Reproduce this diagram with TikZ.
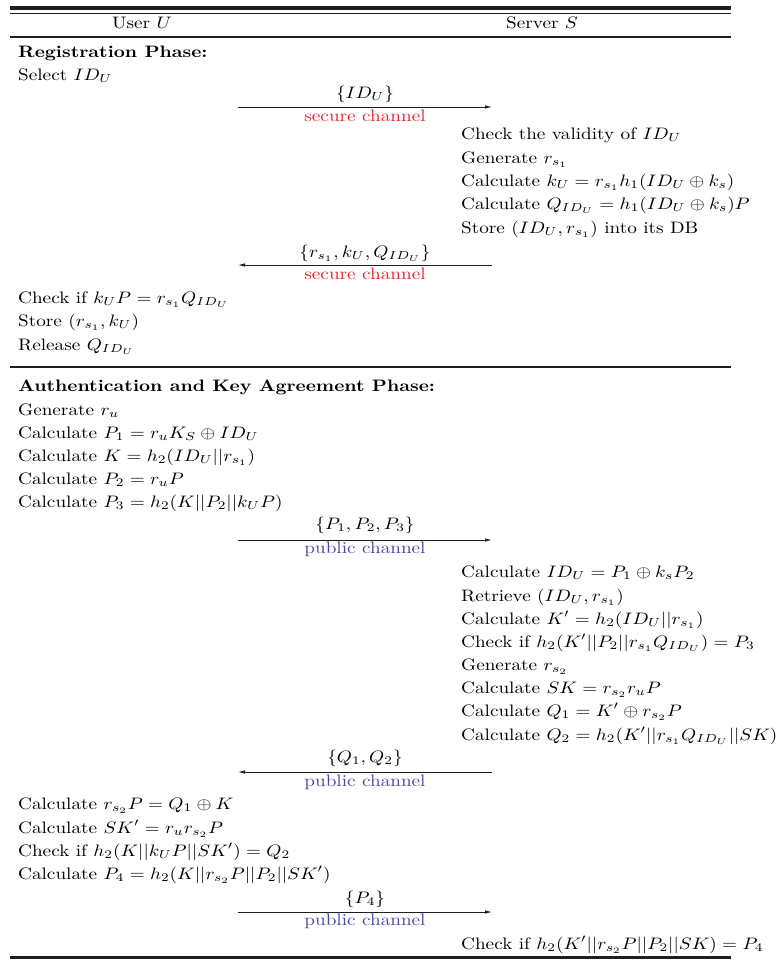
\documentclass[tikz,border=0pt]{standalone}
\usetikzlibrary{arrows.meta}
\definecolor{secred}{RGB}{232,38,44}
\definecolor{pubblue}{RGB}{72,72,168}
\definecolor{rulegray}{RGB}{30,30,30}
\newcommand\sx[1]{\scalebox{1.92}[1.66]{#1}}
\begin{document}
\begin{tikzpicture}[x=1pt,y=-1pt,
  txt/.style={anchor=base west, inner sep=0pt, font=\fontsize{10}{12}\selectfont},
  ctr/.style={anchor=base, inner sep=0pt, font=\fontsize{10}{12}\selectfont},
  sec/.style={ctr, text=secred},
  pub/.style={ctr, text=pubblue},
  msg/.style={-{Latex[length=7pt,width=3.5pt]}, line width=0.8pt, draw=rulegray},
  hrule/.style={draw=rulegray, line width=#1},
]
\useasboundingbox (0,0) rectangle (783,962);
% rules
\draw[hrule=4pt] (10,8) -- (731,8);
\draw[hrule=1pt] (10,13.5) -- (731,13.5);
\draw[hrule=2.5pt] (10,37) -- (731,37);
\draw[hrule=2pt] (10,367) -- (731,367);
\draw[hrule=3pt] (10,957) -- (731,957);
% header
\node[ctr] (hu) at (142,28) {\sx{User $U$}};
\node[ctr] (hs) at (542,28) {\sx{Server $S$}};
% registration
\node[txt] (reg) at (18,57) {\sx{\textbf{Registration Phase:}}};
\node[txt] (u1) at (18,80) {\sx{Select $ID_U$}};
\coordinate (a1s) at (238,107); \coordinate (a1e) at (492,107);
\node[ctr] (m1) at (365,98) {\sx{$\{ID_U\}$}};
\draw[msg] (a1s) -- (a1e);
\node[sec] (c1) at (365,121) {\sx{secure channel}};
\node[txt] (s1) at (461,139) {\sx{Check the validity of $ID_U$}};
\node[txt] (s2) at (461,163) {\sx{Generate $r_{s_1}$}};
\node[txt] (s3) at (461,186) {\sx{Calculate $k_U = r_{s_1} h_1(ID_U \oplus k_s)$}};
\node[txt] (s4) at (461,209) {\sx{Calculate $Q_{ID_U} = h_1(ID_U \oplus k_s)P$}};
\node[txt] (s5) at (461,233) {\sx{Store $(ID_U, r_{s_1})$ into its DB}};
\coordinate (a2s) at (492,265); \coordinate (a2e) at (238,265);
\node[ctr] (m2) at (365,257) {\sx{$\{r_{s_1}, k_U, Q_{ID_U}\}$}};
\draw[msg] (a2s) -- (a2e);
\node[sec] (c2) at (365,279) {\sx{secure channel}};
\node[txt] (u2) at (18,303) {\sx{Check if $k_U P = r_{s_1} Q_{ID_U}$}};
\node[txt] (u3) at (18,326) {\sx{Store $(r_{s_1}, k_U)$}};
\node[txt] (u4) at (18,350) {\sx{Release $Q_{ID_U}$}};
% authentication
\node[txt] (auth) at (18,391) {\sx{\textbf{Authentication and Key Agreement Phase:}}};
\node[txt] (u5) at (18,415) {\sx{Generate $r_u$}};
\node[txt] (u6) at (18,438) {\sx{Calculate $P_1 = r_u K_S \oplus ID_U$}};
\node[txt] (u7) at (18,461) {\sx{Calculate $K = h_2(ID_U || r_{s_1})$}};
\node[txt] (u8) at (18,484) {\sx{Calculate $P_2 = r_u P$}};
\node[txt] (u9) at (18,507) {\sx{Calculate $P_3 = h_2(K || P_2 || k_U P)$}};
\coordinate (a3s) at (238,540); \coordinate (a3e) at (492,540);
\node[ctr] (m3) at (365,529) {\sx{$\{P_1, P_2, P_3\}$}};
\draw[msg] (a3s) -- (a3e);
\node[pub] (c3) at (365,553) {\sx{public channel}};
\node[txt] (s6) at (461,577) {\sx{Calculate $ID_U = P_1 \oplus k_s P_2$}};
\node[txt] (s7) at (461,601) {\sx{Retrieve $(ID_U, r_{s_1})$}};
\node[txt] (s8) at (461,624) {\sx{Calculate $K' = h_2(ID_U || r_{s_1})$}};
\node[txt] (s9) at (461,647) {\sx{Check if $h_2(K' || P_2 || r_{s_1} Q_{ID_U}) = P_3$}};
\node[txt] (s10) at (461,670) {\sx{Generate $r_{s_2}$}};
\node[txt] (s11) at (461,693) {\sx{Calculate $SK = r_{s_2} r_u P$}};
\node[txt] (s12) at (461,716) {\sx{Calculate $Q_1 = K' \oplus r_{s_2} P$}};
\node[txt] (s13) at (461,740) {\sx{Calculate $Q_2 = h_2(K' || r_{s_1} Q_{ID_U} || SK)$}};
\coordinate (a4s) at (492,772); \coordinate (a4e) at (238,772);
\node[ctr] (m4) at (365,762) {\sx{$\{Q_1, Q_2\}$}};
\draw[msg] (a4s) -- (a4e);
\node[pub] (c4) at (365,786) {\sx{public channel}};
\node[txt] (u10) at (18,809) {\sx{Calculate $r_{s_2} P = Q_1 \oplus K$}};
\node[txt] (u11) at (18,833) {\sx{Calculate $SK' = r_u r_{s_2} P$}};
\node[txt] (u12) at (18,856) {\sx{Check if $h_2(K || k_U P || SK') = Q_2$}};
\node[txt] (u13) at (18,879) {\sx{Calculate $P_4 = h_2(K || r_{s_2} P || P_2 || SK')$}};
\coordinate (a5s) at (238,912); \coordinate (a5e) at (492,912);
\node[ctr] (m5) at (365,903) {\sx{$\{P_4\}$}};
\draw[msg] (a5s) -- (a5e);
\node[pub] (c5) at (365,925) {\sx{public channel}};
\node[txt] (s14) at (461,949) {\sx{Check if $h_2(K' || r_{s_2} P || P_2 || SK) = P_4$}};
\end{tikzpicture}
\end{document}
